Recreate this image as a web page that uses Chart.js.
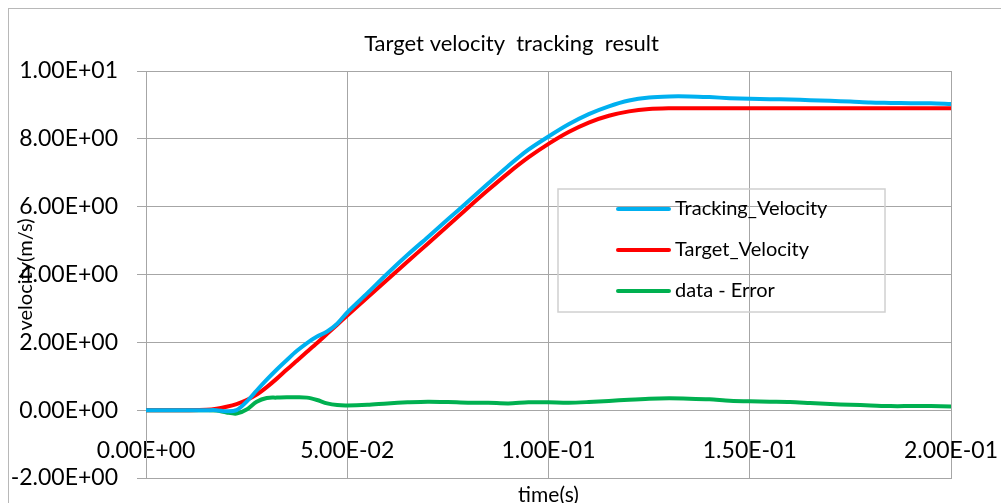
<!DOCTYPE html>
<html>
<head>
<meta charset="utf-8">
<script src="https://cdn.jsdelivr.net/npm/chart.js@4/dist/chart.umd.min.js"></script>
<style>
  html, body { margin: 0; padding: 0; background: #fff; }
</style>
</head>
<body>
<canvas id="myChart" width="1001" height="503"></canvas>
<script>
// time (s)
var times = [0, 0.005, 0.01, 0.015, 0.0175, 0.02, 0.0225, 0.025, 0.0275, 0.03, 0.0325, 0.035, 0.0375, 0.04, 0.0425, 0.045, 0.0475, 0.05,
  0.055, 0.06, 0.065, 0.07, 0.075, 0.08, 0.085, 0.09, 0.095, 0.1, 0.105, 0.11, 0.115, 0.12, 0.125, 0.13, 0.135, 0.14, 0.145, 0.15,
  0.155, 0.16, 0.165, 0.17, 0.175, 0.18, 0.185, 0.19, 0.195, 0.2];
var trackingVelocity = [0, 0, 0, 0, 0, -0.03, 0, 0.25, 0.58, 0.9, 1.2, 1.48, 1.75, 1.98, 2.17, 2.32, 2.55, 2.88,
  3.45, 4.03, 4.58, 5.1, 5.63, 6.15, 6.68, 7.2, 7.68, 8.07, 8.43, 8.73, 8.96, 9.13, 9.22, 9.25, 9.25, 9.23, 9.2, 9.18,
  9.17, 9.16, 9.14, 9.12, 9.1, 9.07, 9.06, 9.05, 9.05, 9.03];
var targetVelocity = [0, 0, 0, 0.01, 0.04, 0.1, 0.18, 0.3, 0.46, 0.68, 0.93, 1.2, 1.46, 1.72, 1.98, 2.25, 2.52, 2.79,
  3.32, 3.85, 4.38, 4.91, 5.44, 5.97, 6.49, 6.99, 7.45, 7.85, 8.2, 8.48, 8.68, 8.81, 8.88, 8.9, 8.9, 8.9, 8.9, 8.9,
  8.9, 8.9, 8.9, 8.9, 8.9, 8.9, 8.9, 8.9, 8.9, 8.9];
var errorData = [0, 0, 0, 0, -0.01, -0.07, -0.1, 0.02, 0.25, 0.36, 0.37, 0.38, 0.38, 0.37, 0.3, 0.2, 0.15, 0.14,
  0.16, 0.2, 0.23, 0.25, 0.24, 0.22, 0.22, 0.2, 0.23, 0.23, 0.22, 0.24, 0.27, 0.31, 0.34, 0.35, 0.34, 0.32, 0.28, 0.26,
  0.25, 0.24, 0.21, 0.18, 0.16, 0.14, 0.12, 0.12, 0.12, 0.11];

function points(vals) {
  return times.map(function (t, i) { return { x: t, y: vals[i] }; });
}

// Excel style 0.00E+00
function sci(v) {
  if (Math.abs(v) < 1e-12) return "0.00E+00";
  var e = Math.floor(Math.log10(Math.abs(v)) + 1e-9);
  var m = v / Math.pow(10, e);
  return m.toFixed(2) + "E" + (e < 0 ? "-" : "+") + String(Math.abs(e)).padStart(2, "0");
}

var gridColor = "#a6a6a6";
var font = "Lato";

var framePlugin = {
  id: "frame",
  beforeDraw: function (chart) {
    var c = chart.ctx;
    c.save();
    c.fillStyle = "#fff";
    c.fillRect(0, 0, chart.width, chart.height);
    c.strokeStyle = "#b8b8b8";
    c.lineWidth = 1;
    c.strokeRect(8.5, 8.5, 1100, 600);
    c.restore();
  }
};

var boxLegend = {
  id: "boxLegend",
  afterDatasetsDraw: function (chart) {
    var c = chart.ctx;
    c.save();
    c.strokeStyle = "#d0d0d0";
    c.lineWidth = 1.5;
    c.strokeRect(558, 189, 327, 123);
    c.font = "20px " + font;
    c.textBaseline = "middle";
    chart.data.datasets.forEach(function (ds, i) {
      var y = 209 + i * 41;
      c.strokeStyle = ds.borderColor;
      c.lineWidth = 4;
      c.lineCap = "round";
      c.beginPath();
      c.moveTo(618, y);
      c.lineTo(669, y);
      c.stroke();
      c.fillStyle = "#000";
      c.fillText(ds.label, 675, y);
    });
    c.restore();
  }
};

var ctx = document.getElementById("myChart");
new Chart(ctx, {
  type: "line",
  data: {
    datasets: [
      { label: "Tracking_Velocity", data: points(trackingVelocity), borderColor: "#00b0f0", borderWidth: 4, pointRadius: 0, tension: 0.3 },
      { label: "Target_Velocity", data: points(targetVelocity), borderColor: "#ff0000", borderWidth: 4, pointRadius: 0, tension: 0.3 },
      { label: "data - Error", data: points(errorData), borderColor: "#00b050", borderWidth: 4, pointRadius: 0, tension: 0.3 }
    ]
  },
  options: {
    responsive: false,
    animation: false,
    layout: { padding: { left: 0, right: -22, top: 0, bottom: 0 } },
    plugins: {
      legend: { display: false },
      tooltip: { enabled: false },
      title: {
        display: true,
        text: "Target velocity  tracking  result",
        color: "#000",
        font: { family: font, size: 22, weight: "normal" },
        padding: { top: 31, bottom: 13.6 }
      }
    },
    scales: {
      x: {
        type: "linear",
        position: "bottom",
        min: 0,
        max: 0.2,
        grid: { color: gridColor, drawTicks: false },
        border: { color: gridColor },
        ticks: {
          stepSize: 0.05,
          maxRotation: 0,
          autoSkip: false,
          mirror: true,
          padding: 14,
          color: "#000",
          font: { family: font, size: 23 },
          callback: function (v) { return sci(v); }
        },
        title: {
          display: true,
          text: "time(s)",
          color: "#000",
          font: { family: font, size: 21 },
          padding: { top: 0, bottom: -5 }
        },
        afterFit: function (s) {
          s.height = 25;
          s.paddingLeft = 0;
          s.paddingRight = 50;
        }
      },
      y: {
        min: -2,
        max: 10,
        grid: { color: gridColor, tickLength: 9 },
        border: { color: gridColor },
        ticks: {
          stepSize: 2,
          padding: 19,
          color: "#000",
          font: { family: font, size: 23 },
          callback: function (v) { return sci(v); }
        },
        title: {
          display: true,
          text: "velocity(m/s)",
          color: "#000",
          font: { family: font, size: 20 },
          padding: { top: 14, bottom: 0 }
        },
        afterFit: function (s) {
          s.width = 146;
          s.paddingTop = 0;
          s.paddingBottom = 0;
        }
      }
    }
  },
  plugins: [framePlugin, boxLegend]
});
</script>
</body>
</html>
